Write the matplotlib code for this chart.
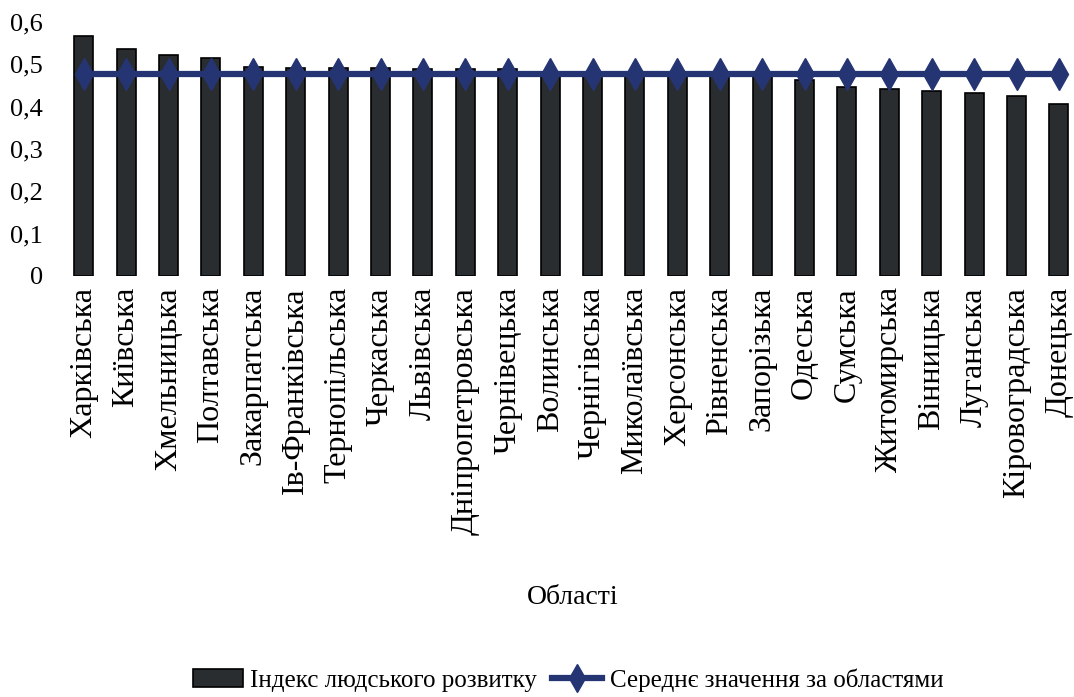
import matplotlib
matplotlib.use("Agg")
import matplotlib.pyplot as plt
from matplotlib.patches import Patch
from matplotlib.lines import Line2D

plt.rcParams['font.family'] = ['Liberation Serif', 'DejaVu Serif']

# oblasts and human development index
regions = ["Харківська", "Київська", "Хмельницька", "Полтавська", "Закарпатська",
           "Ів-Франківська", "Тернопільська", "Черкаська", "Львівська",
           "Дніпропетровська", "Чернівецька", "Волинська", "Чернігівська",
           "Миколаївська", "Херсонська", "Рівненська", "Запорізька", "Одеська",
           "Сумська", "Житомирська", "Вінницька", "Луганська", "Кіровоградська",
           "Донецька"]
hdi = [0.566, 0.536, 0.522, 0.516, 0.493, 0.492, 0.492, 0.491, 0.490,
       0.490, 0.489, 0.483, 0.482, 0.481, 0.480, 0.479, 0.478, 0.463,
       0.447, 0.442, 0.437, 0.432, 0.426, 0.407]
mean_value = 0.476
mean_line = [mean_value] * len(regions)
yticks = [0, 0.1, 0.2, 0.3, 0.4, 0.5, 0.6]
ytick_labels = ["0", "0,1", "0,2", "0,3", "0,4", "0,5", "0,6"]

bar_color = '#2a2d30'
line_color = '#253573'

fig = plt.figure(figsize=(10.74, 6.97), dpi=100)
ax = fig.add_axes([62.5 / 1074, 1 - 276 / 697, 1017.6 / 1074, 254 / 697])

x = range(len(regions))
ax.bar(x, hdi, width=0.45, color=bar_color, edgecolor='black', linewidth=1.2, zorder=2)
ax.plot(x, mean_line, color=line_color, linewidth=4.5, marker='d',
        markersize=16, zorder=3)

ax.set_xlim(-0.5, len(regions) - 0.5)
ax.set_ylim(0, 0.6)
ax.set_yticks(yticks)
ax.set_yticklabels(ytick_labels, fontsize=19)
ax.set_xticks(list(x))
ax.set_xticklabels(regions, rotation=90, fontsize=23)
ax.tick_params(axis='x', length=0, pad=8)
ax.tick_params(axis='y', length=0, pad=14)
for s in ax.spines.values():
    s.set_visible(False)

fig.text(573 / 1074, 1 - 597 / 697, "Області", ha='center', va='center', fontsize=20)

handles = [Patch(facecolor=bar_color, edgecolor='black', linewidth=1.2),
           Line2D([], [], color=line_color, linewidth=4.5, marker='d', markersize=14)]
fig.legend(handles, ["Індекс людського розвитку", "Середнє значення за областями"],
           loc='center', bbox_to_anchor=(568 / 1074, 1 - 680 / 697), ncol=2,
           frameon=False, fontsize=18, handlelength=2.0, handletextpad=0.3,
           columnspacing=0.6)

fig.savefig("out.png", dpi=100)
